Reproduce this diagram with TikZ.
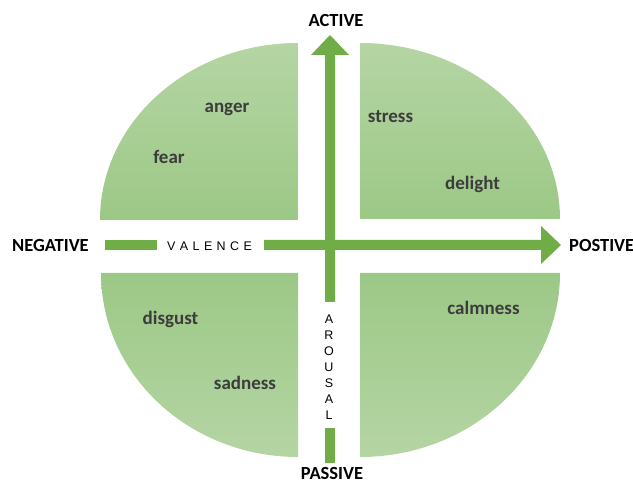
\documentclass[tikz,border=0pt]{standalone}
\usepackage{fontspec}
\setmainfont{Carlito}
\newfontfamily\arialfont{Liberation Sans}
\definecolor{axisgreen}{HTML}{70AD47}
\definecolor{qlight}{HTML}{B5D5A4}
\definecolor{qdark}{HTML}{9CC886}
\definecolor{wordgray}{HTML}{3C3C3C}
\begin{document}
\begin{tikzpicture}[x=1pt,y=1pt,
  quadtop/.style={top color=qlight,bottom color=qdark,draw=none},
  quadbot/.style={top color=qdark,bottom color=qlight,draw=none},
  axisbar/.style={fill=axisgreen,draw=none},
  axislabel/.style={font=\bfseries\fontsize{18.5}{20}\selectfont,text=black,inner sep=0pt,anchor=base},
  emotion/.style={font=\bfseries\fontsize{19}{21}\selectfont,text=wordgray,inner sep=0pt,anchor=base},
  spaced/.style={font=\arialfont\fontsize{12.5}{16}\selectfont,text=black,inner sep=0pt}
]
\useasboundingbox (0,0) rectangle (633,484);
% quadrants
\path[quadtop] (298,264) -- (100,264) arc[start angle=180,end angle=90,x radius=198pt,y radius=177pt] -- cycle;
\path[quadtop] (360,265) -- (360,441) arc[start angle=90,end angle=0,x radius=200pt,y radius=176pt] -- cycle;
\path[quadbot] (298,211) -- (101,211) arc[start angle=180,end angle=270,x radius=197pt,y radius=184pt] -- cycle;
\path[quadbot] (360,211) -- (560,211) arc[start angle=0,end angle=-90,x radius=200pt,y radius=184pt] -- cycle;
% axes
\path[axisbar] (325,182) -- (325,429) -- (311,429) -- (330,449) -- (349,429) -- (335,429) -- (335,182) -- cycle;
\path[axisbar] (325,21) rectangle (335,56);
\path[axisbar] (105,234) rectangle (157,244);
\path[axisbar] (264,234) -- (541,234) -- (541,220) -- (561,239) -- (541,258) -- (541,244) -- (264,244) -- cycle;
% axis labels
\node[axislabel] (active) at (336,457) {ACTIVE};
\node[axislabel] (passive) at (332,4) {PASSIVE};
\node[axislabel,anchor=base west] (negative) at (12,232) {NEGATIVE};
\node[axislabel,anchor=base west] (postive) at (569,232) {POSTIVE};
\node[spaced,anchor=base west] (valence) at (167,233.5) {V\hspace{4.4pt}A\hspace{4.4pt}L\hspace{4.4pt}E\hspace{4.4pt}N\hspace{4.4pt}C\hspace{4.4pt}E};
\node[spaced,align=center,anchor=north] (arousal) at (329,169.5) {A\\R\\O\\U\\S\\A\\L};
% emotions
\node[emotion] (anger) at (227,371.3) {anger};
\node[emotion] (fear) at (169,320) {fear};
\node[emotion] (stress) at (390.5,361.3) {stress};
\node[emotion] (delight) at (472.5,294) {delight};
\node[emotion] (disgust) at (170.5,159) {disgust};
\node[emotion] (sadness) at (245,94) {sadness};
\node[emotion] (calmness) at (483.5,169) {calmness};
\end{tikzpicture}
\end{document}
